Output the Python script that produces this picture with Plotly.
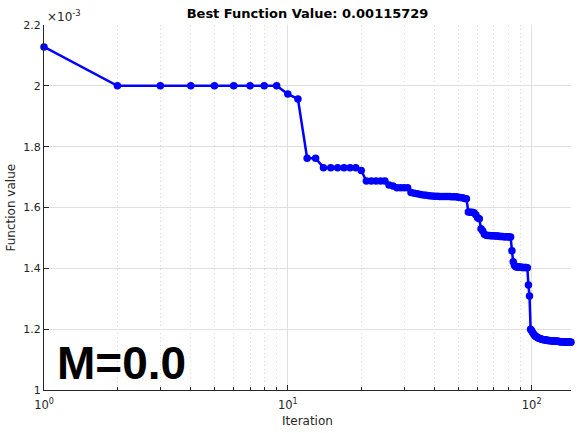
import math
import plotly.graph_objects as go

# Best objective value recorded at each iteration (units of 1e-3)
fval_e3 = [
    2.128, 2.000, 2.000, 2.000, 2.000, 2.000, 2.000, 2.000, 2.000, 1.973,
    1.957, 1.762, 1.762, 1.731, 1.731, 1.731, 1.731, 1.731, 1.731, 1.722,
    1.687, 1.687, 1.687, 1.687, 1.687, 1.674, 1.671, 1.665, 1.665, 1.665,
    1.665, 1.649, 1.647, 1.645, 1.643, 1.641, 1.640, 1.639, 1.638, 1.637,
    1.637, 1.636, 1.636, 1.636, 1.636, 1.636, 1.635, 1.635, 1.635, 1.634,
    1.633, 1.632, 1.630, 1.629, 1.585, 1.584, 1.584, 1.583, 1.576, 1.566,
    1.563, 1.530, 1.523, 1.512, 1.509, 1.508, 1.508, 1.507, 1.507, 1.507,
    1.506, 1.506, 1.506, 1.505, 1.505, 1.505, 1.504, 1.504, 1.504, 1.504,
    1.503, 1.503, 1.458, 1.422, 1.410, 1.405, 1.404, 1.404, 1.404, 1.404,
    1.403, 1.403, 1.403, 1.403, 1.403, 1.402, 1.345, 1.309, 1.200, 1.195,
    1.188, 1.183, 1.179, 1.176, 1.174, 1.172, 1.170, 1.169, 1.168, 1.167,
    1.166, 1.165, 1.165, 1.164, 1.164, 1.163, 1.163, 1.163, 1.162, 1.162,
    1.162, 1.161, 1.161, 1.161, 1.161, 1.160, 1.160, 1.160, 1.160, 1.159,
    1.159, 1.159, 1.159, 1.159, 1.158, 1.158, 1.158, 1.158, 1.158, 1.158,
    1.158, 1.158, 1.158, 1.158, 1.15729,
]
iterations = list(range(1, len(fval_e3) + 1))

y_ticks = [1.0, 1.2, 1.4, 1.6, 1.8, 2.0, 2.2]
y_tick_text = ["1", "1.2", "1.4", "1.6", "1.8", "2", "2.2"]
x_ticks = [1, 10, 100]
x_tick_text = ["10<sup>0</sup>", "10<sup>1</sup>", "10<sup>2</sup>"]
x_minor = [2, 3, 4, 5, 6, 7, 8, 9, 20, 30, 40, 50, 60, 70, 80, 90]

best = fval_e3[-1] * 1e-3
title_text = f"Best Function Value: {best:.8f}"

AX = "#262626"
FONT = "DejaVu Sans"

fig = go.Figure()
fig.add_trace(go.Scatter(
    x=iterations, y=fval_e3,
    mode="lines+markers",
    line=dict(color="#0000FF", width=2.5),
    marker=dict(color="#0000FF", size=7.5),
    cliponaxis=False,
    showlegend=False,
))

fig.update_layout(
    width=577, height=433,
    margin=dict(l=44, r=6, t=25, b=43),
    paper_bgcolor="white", plot_bgcolor="white",
    font=dict(family=FONT, size=11, color=AX),
    title=dict(text=f"<b>{title_text}</b>", x=0.533, xanchor="center",
               y=1 - 13 / 433, yanchor="middle",
               font=dict(family=FONT, size=13, color="black")),
    xaxis=dict(
        type="log", range=[0, math.log10(iterations[-1])],
        tickvals=x_ticks, ticktext=x_tick_text,
        ticks="inside", ticklen=5, tickcolor=AX, tickfont=dict(size=11.5, color=AX),
        ticklabelstandoff=4,
        showline=True, linecolor=AX, linewidth=1, mirror=False,
        showgrid=True, gridcolor="#DFDFDF", gridwidth=1,
        zeroline=False,
        minor=dict(tickvals=x_minor, ticks="inside", ticklen=3, tickcolor=AX,
                   showgrid=True, gridcolor="#D6D6D6", griddash="1px,3px", gridwidth=1),
    ),
    yaxis=dict(
        range=[1.0, 2.2],
        tickvals=y_ticks, ticktext=y_tick_text,
        ticks="inside", ticklen=5, tickcolor=AX, tickfont=dict(size=11, color=AX),
        showline=True, linecolor=AX, linewidth=1, mirror=False,
        showgrid=True, gridcolor="#DFDFDF", gridwidth=1,
        zeroline=False,
    ),
    annotations=[
        dict(text="Iteration", xref="paper", yref="paper", x=0.5, y=0,
             xanchor="center", yanchor="middle", yshift=-31, showarrow=False,
             font=dict(family=FONT, size=12, color=AX)),
        dict(text="Function value", xref="paper", yref="paper", x=0, y=0.5,
             xanchor="center", yanchor="middle", xshift=-34, textangle=-90,
             showarrow=False, font=dict(family=FONT, size=12, color=AX)),
        dict(text="\u00d710<sup>-3</sup>", xref="paper", yref="paper", x=0, y=1,
             xanchor="left", yanchor="bottom", xshift=1, yshift=-1, showarrow=False,
             font=dict(family=FONT, size=12, color=AX)),
        dict(text="<b>M=0.0</b>", xref="paper", yref="paper", x=0, y=0.075,
             xanchor="left", yanchor="middle", xshift=11, showarrow=False,
             font=dict(family="Liberation Sans", size=46, color="black")),
    ],
)

fig.write_html("out.html")
